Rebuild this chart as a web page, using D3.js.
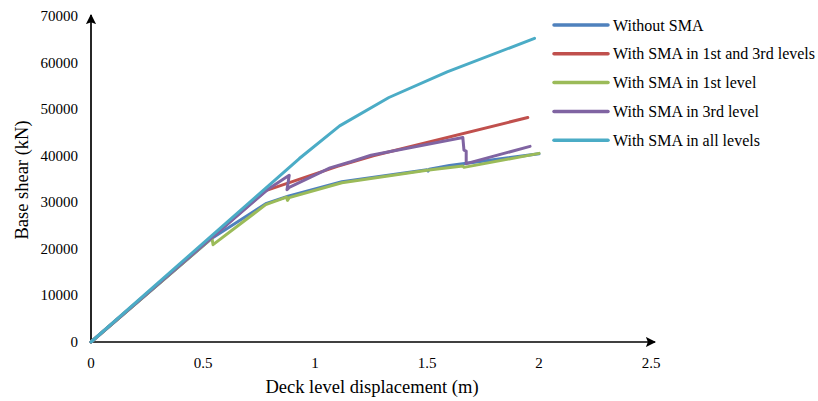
<!DOCTYPE html>
<meta charset="utf-8">
<script src="https://d3js.org/d3.v7.min.js"></script>
<style>
  body { margin: 0; background: #fff; }
  text { font-family: "Liberation Serif", "Times New Roman", serif; fill: #000; }
</style>
<div id="chart"></div>
<script>

// tick labels
const xTicks = [0, 0.5, 1, 1.5, 2, 2.5];
const yTicks = [0, 10000, 20000, 30000, 40000, 50000, 60000, 70000];

// series names
const seriesNames = ["Without SMA", "With SMA in 1st and 3rd levels", "With SMA in 1st level", "With SMA in 3rd level", "With SMA in all levels"];

// pushover curves [displacement (m), base shear (kN)]
const withoutSMA = [[0, 0], [0.54, 22300], [0.78, 29700], [0.88, 31300], [1.12, 34400], [1.5, 37000], [1.505, 36700], [1.51, 37100], [1.6, 37900], [2.0, 40400]];
const sma13 = [[0, 0], [0.78, 32500], [1.1, 37700], [1.26, 40000], [1.95, 48200]];
const sma1 = [[0, 0], [0.54, 22300], [0.545, 20900], [0.78, 29500], [0.873, 31100], [0.877, 30400], [0.885, 31000], [1.12, 34200], [1.5, 36900], [1.66, 37800], [1.665, 37500], [2.0, 40500]];
const sma3 = [[0, 0], [0.79, 32800], [0.885, 35800], [0.875, 32700], [0.885, 33200], [1.067, 37400], [1.16, 38700], [1.25, 40100], [1.66, 43900], [1.665, 41200], [1.675, 41000], [1.675, 38300], [1.96, 42000]];
const smaAll = [[0, 0], [0.93, 39400], [1.11, 46400], [1.33, 52500], [1.59, 58000], [1.98, 65200]];

const seriesData = [withoutSMA, sma13, sma1, sma3, smaAll];
const colors = ["#4F81BD", "#C0504D", "#9BBB59", "#8064A2", "#4BACC6"];

const width = 818, height = 401;
const margin = {left: 91, right: 167, top: 16, bottom: 59};

const svg = d3.select("#chart").append("svg")
    .attr("width", width)
    .attr("height", height);

const x = d3.scaleLinear().domain([0, 2.5]).range([margin.left, width - margin.right]);
const y = d3.scaleLinear().domain([0, 70000]).range([height - margin.bottom, margin.top]);

// arrow heads for the axes
svg.append("defs").append("marker")
    .attr("id", "arrow")
    .attr("viewBox", "0 0 10 10")
    .attr("refX", 9).attr("refY", 5)
    .attr("markerWidth", 6).attr("markerHeight", 6)
    .attr("orient", "auto")
    .attr("markerUnits", "strokeWidth")
    .append("path")
    .attr("d", "M0,0 L10,5 L0,10 L2,5 Z")
    .attr("fill", "#000");

// x axis
svg.append("line")
    .attr("x1", x(0)).attr("x2", x(2.5) + 4)
    .attr("y1", y(0)).attr("y2", y(0))
    .attr("stroke", "#000").attr("stroke-width", 1.7)
    .attr("marker-end", "url(#arrow)");

// y axis
svg.append("line")
    .attr("x1", x(0)).attr("x2", x(0))
    .attr("y1", y(0)).attr("y2", y(70000) - 1)
    .attr("stroke", "#000").attr("stroke-width", 1.7)
    .attr("marker-end", "url(#arrow)");

svg.selectAll(".xlab")
    .data(xTicks)
    .join("text")
    .attr("class", "xlab")
    .attr("x", d => x(d))
    .attr("y", y(0) + 26)
    .attr("text-anchor", "middle")
    .style("font-size", "15px")
    .text(d => d);

svg.selectAll(".ylab")
    .data(yTicks)
    .join("text")
    .attr("class", "ylab")
    .attr("x", x(0) - 13)
    .attr("y", d => y(d) + 5)
    .attr("text-anchor", "end")
    .style("font-size", "15px")
    .text(d => d);

// axis titles
svg.append("text")
    .attr("x", 372).attr("y", 393)
    .attr("text-anchor", "middle")
    .style("font-size", "18.5px")
    .text("Deck level displacement (m)");

svg.append("text")
    .attr("transform", "translate(28,180) rotate(-90)")
    .attr("text-anchor", "middle")
    .style("font-size", "18.5px")
    .text("Base shear (kN)");

// curves
const line = d3.line().x(d => x(d[0])).y(d => y(d[1]));

svg.selectAll(".curve")
    .data(seriesData)
    .join("path")
    .attr("class", "curve")
    .attr("d", line)
    .attr("fill", "none")
    .attr("stroke", (d, i) => colors[i])
    .attr("stroke-width", 3)
    .attr("stroke-linejoin", "round")
    .attr("stroke-linecap", "round");

// legend
const legend = svg.selectAll(".legend")
    .data(seriesNames)
    .join("g")
    .attr("class", "legend")
    .attr("transform", (d, i) => `translate(554,${25 + i * 28.8})`);

legend.append("line")
    .attr("x1", 0).attr("x2", 54)
    .attr("stroke", (d, i) => colors[i])
    .attr("stroke-width", 3.5)
    .attr("stroke-linecap", "round");

legend.append("text")
    .attr("x", 59).attr("y", 5.5)
    .style("font-size", "16px")
    .text(d => d);

</script>
